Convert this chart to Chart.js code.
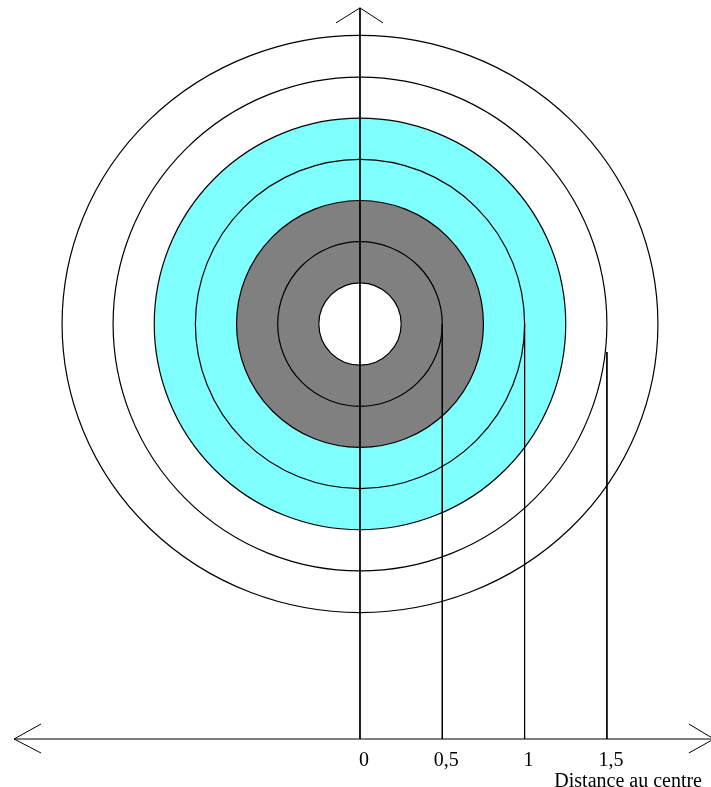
<!DOCTYPE html>
<html><head><meta charset="utf-8">
<script src="https://cdn.jsdelivr.net/npm/chart.js@4/dist/chart.umd.min.js"></script>
<style>html,body{margin:0;padding:0;background:#fff;} canvas{display:block;}</style>
</head><body>
<canvas id="c" width="711" height="787"></canvas>
<script>
// ---- data ----
const tickValues = [0, 0.5, 1, 1.5];
const tickLabels = ['0', '0,5', '1', '1,5'];
const axisTitle = 'Distance au centre';
const circleRx = [0.25, 0.5, 0.75, 1, 1.25, 1.5, 1.81];
const circleRy = [0.25, 0.5, 0.75, 1, 1.25, 1.5, 1.753];
const greyBand = [0.25, 0.75];
const cyanBand = [0.75, 1.25];
const guideX = [0.5, 1, 1.5];
const guideTop = [0, 0, -0.17];
const axisY = -2.521;
const xAxisExtent = [-2.102, 2.15];
const yAxisTop = 1.92;

// ---- datasets (straight lines) ----
const lineStyle = {borderColor: '#000', borderWidth: 1, pointRadius: 0, showLine: true, clip: false, fill: false};
const datasets = [];
guideX.forEach((gx, i) => datasets.push(Object.assign({data: [{x: gx, y: guideTop[i]}, {x: gx, y: axisY}]}, lineStyle)));
datasets.push(Object.assign({data: [{x: 0, y: yAxisTop}, {x: 0, y: axisY}]}, lineStyle));
datasets.push(Object.assign({data: [{x: xAxisExtent[0], y: axisY}, {x: xAxisExtent[1], y: axisY}]}, lineStyle));

const ringsPlugin = {
  id: 'rings',
  beforeDatasetsDraw(chart) {
    const ctx = chart.ctx, xs = chart.scales.x, ys = chart.scales.y;
    const cx = xs.getPixelForValue(0), cy = ys.getPixelForValue(0);
    const rx = v => xs.getPixelForValue(v) - cx;
    const ry = v => cy - ys.getPixelForValue(v);
    ctx.save();
    const band = (b, color) => {
      ctx.beginPath();
      ctx.ellipse(cx, cy, rx(b[1]), ry(b[1]), 0, 0, Math.PI * 2);
      ctx.moveTo(cx + rx(b[0]), cy);
      ctx.ellipse(cx, cy, rx(b[0]), ry(b[0]), 0, 0, Math.PI * 2, true);
      ctx.fillStyle = color;
      ctx.fill('evenodd');
    };
    band(cyanBand, '#80ffff');
    band(greyBand, '#808080');
    ctx.strokeStyle = '#000';
    ctx.lineWidth = 1.2;
    circleRx.forEach((r, i) => {
      ctx.beginPath();
      ctx.ellipse(cx, cy, rx(r), ry(circleRy[i]), 0, 0, Math.PI * 2);
      ctx.stroke();
    });
    ctx.restore();
  },
  afterDatasetsDraw(chart) {
    const ctx = chart.ctx, xs = chart.scales.x, ys = chart.scales.y;
    ctx.save();
    ctx.strokeStyle = '#000';
    ctx.lineWidth = 1;
    const ax = xs.getPixelForValue(0), ay = ys.getPixelForValue(yAxisTop);
    const by = ys.getPixelForValue(axisY);
    const lx = xs.getPixelForValue(xAxisExtent[0]);
    const rxp = xs.getPixelForValue(xAxisExtent[1]);
    ctx.beginPath();
    ctx.moveTo(ax - 24, ay + 15); ctx.lineTo(ax, ay); ctx.lineTo(ax + 23, ay + 15);
    ctx.moveTo(lx + 27, by - 15); ctx.lineTo(lx, by); ctx.lineTo(lx + 27, by + 14);
    ctx.moveTo(rxp - 25, by - 15); ctx.lineTo(rxp, by); ctx.lineTo(rxp - 25, by + 14);
    ctx.stroke();
    ctx.restore();
  }
};

new Chart(document.getElementById('c'), {
  type: 'scatter',
  data: {datasets},
  plugins: [ringsPlugin],
  options: {
    responsive: false,
    devicePixelRatio: 1,
    animation: false,
    events: [],
    layout: {padding: {left: 0, top: 0, right: 9, bottom: 0}},
    plugins: {legend: {display: false}, tooltip: {enabled: false}},
    scales: {
      x: {
        type: 'linear',
        position: 'bottom',
        min: -2.1871,
        max: 2.0778,
        afterBuildTicks: s => { s.ticks = tickValues.map(v => ({value: v})); },
        afterFit: s => { s.height = 48; },
        grid: {display: false},
        border: {display: false},
        ticks: {
          autoSkip: false,
          maxRotation: 0,
          padding: 4,
          labelOffset: 4,
          color: '#000',
          font: {family: 'Liberation Serif', size: 20, lineHeight: 1},
          callback: v => tickLabels[tickValues.indexOf(v)]
        },
        title: {
          display: true,
          text: axisTitle,
          align: 'end',
          color: '#000',
          padding: {top: 0, bottom: -5},
          font: {family: 'Liberation Serif', size: 20, lineHeight: 1}
        }
      },
      y: {
        type: 'linear',
        display: false,
        min: axisY,
        max: 1.968
      }
    }
  }
});
</script>
</body></html>
